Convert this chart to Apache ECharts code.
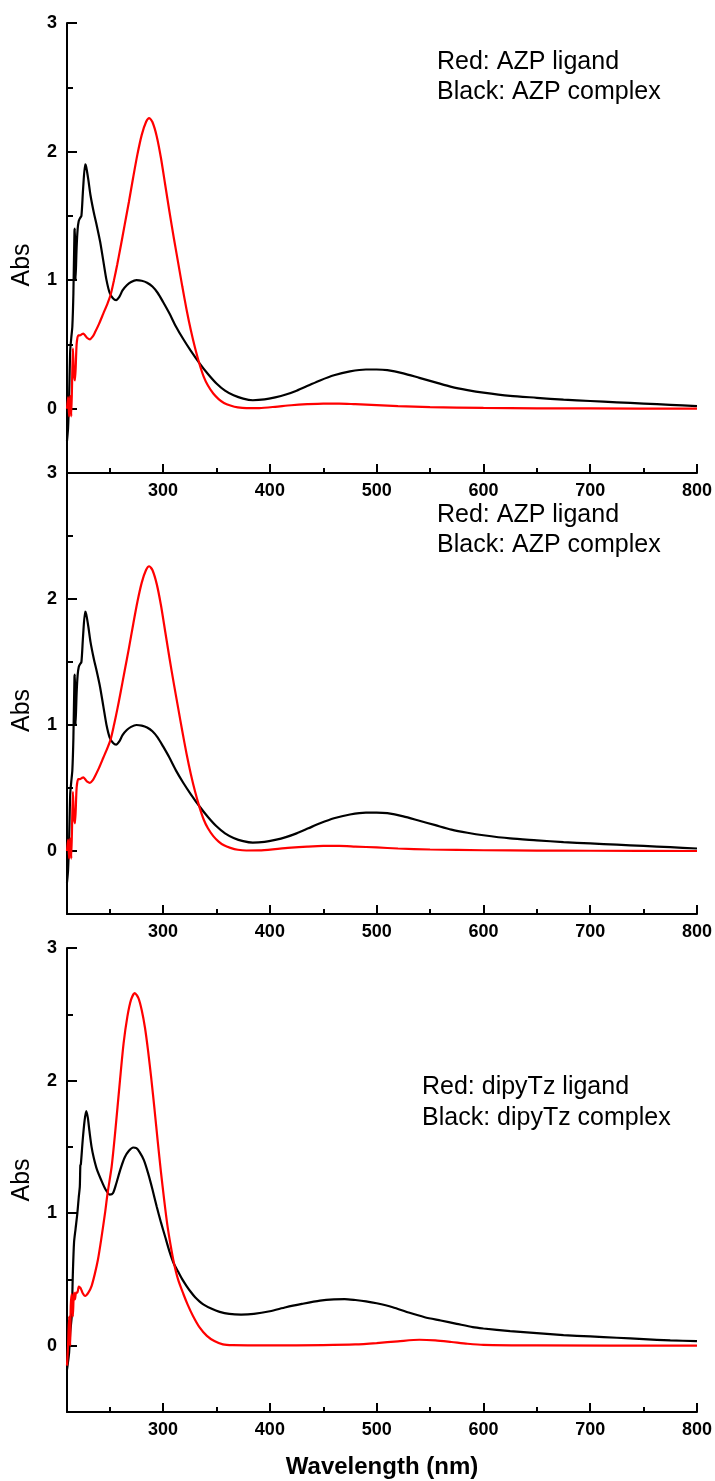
<!DOCTYPE html>
<html>
<head>
<meta charset="utf-8">
<script src="https://cdn.jsdelivr.net/npm/echarts@6/dist/echarts.min.js"></script>
<style>
html,body{margin:0;padding:0;background:#fff;}
#chart{width:715px;height:1481px;}
</style>
</head>
<body>
<div id="chart"></div>
<script>
// ---------- DATA ----------
// AZP complex (black, panels 1 and 2)
const azpComplexWl  = [210,211,212,213,214,215,216,217,217.5,218,219,220,221,222,223.5,225,227,228,230,232,235,238,241,244,247,250,253,256,259,262,266,270,275,280,285,290,295,300,306,312,319,326,334,342,350,358,366,375,384,395,405,415,425,436,447,460,475,490,500,510,525,540,555,570,585,600,625,650,675,700,725,750,775,800];
const azpComplexAbs = [-0.25,-0.15,0.1,0.45,0.55,0.64,0.9,1.38,1.40,1.0,1.25,1.40,1.46,1.48,1.50,1.70,1.90,1.88,1.78,1.66,1.53,1.42,1.30,1.15,1.00,0.90,0.86,0.845,0.87,0.92,0.96,0.985,1.0,0.995,0.98,0.95,0.90,0.83,0.74,0.64,0.54,0.45,0.355,0.27,0.196,0.14,0.104,0.078,0.066,0.072,0.088,0.11,0.14,0.18,0.22,0.26,0.29,0.305,0.305,0.30,0.275,0.24,0.205,0.17,0.145,0.125,0.10,0.085,0.07,0.06,0.05,0.04,0.03,0.02];
// AZP ligand (red, panels 1 and 2)
const azpLigandWl  = [210,211,212,213,214,215.5,216.5,217.5,219,220.5,222,224,225.3,227,229,231.5,234,236,240,244,248,251,254,257,260,264,268,272,276,280,284,287,290,294,298,302,306,310,314,318,322,326,330,334,338,342,347,352,357,363,370,378,390,405,420,435,450,465,480,500,520,550,600,650,700,800];
const azpLigandAbs = [0.0,0.09,-0.06,0.1,-0.06,0.47,0.27,0.22,0.50,0.57,0.57,0.58,0.585,0.57,0.55,0.54,0.56,0.59,0.66,0.74,0.82,0.89,1.0,1.12,1.25,1.43,1.61,1.80,1.98,2.13,2.23,2.26,2.23,2.12,1.95,1.74,1.53,1.33,1.14,0.95,0.77,0.61,0.47,0.35,0.25,0.18,0.118,0.075,0.045,0.025,0.01,0.004,0.005,0.015,0.027,0.035,0.04,0.04,0.035,0.028,0.02,0.012,0.006,0.003,0.002,0.0];
// dipyTz complex (black, panel 3)
const dipyComplexWl  = [210,211,212,213,214.4,215.5,216.6,218,219.7,221,222,222.5,223,224.7,226.5,228,229.5,231,233,235,238,242,246,250,253,256,260,264,268,272,275,278,282,286,290,294,298,302,306,310,314,318,322,326,330,334,338,345,353,362,373,385,400,415,430,447,460,470,480,490,500,515,530,545,560,575,590,600,625,650,675,700,725,750,775,800];
const dipyComplexAbs = [-0.18,-0.12,-0.05,0.1,0.22,0.55,0.78,0.88,1.0,1.12,1.2,1.36,1.37,1.55,1.70,1.77,1.72,1.62,1.50,1.42,1.33,1.25,1.18,1.14,1.15,1.22,1.33,1.42,1.47,1.495,1.49,1.46,1.40,1.30,1.18,1.05,0.93,0.82,0.71,0.62,0.56,0.50,0.45,0.405,0.365,0.335,0.31,0.28,0.255,0.24,0.235,0.24,0.26,0.29,0.315,0.34,0.35,0.352,0.345,0.335,0.32,0.29,0.25,0.215,0.19,0.165,0.14,0.13,0.11,0.095,0.08,0.07,0.06,0.05,0.04,0.035];
// dipyTz ligand (red, panel 3)
const dipyLigandWl  = [210,211,212,213,213.5,214.5,215.5,216.5,217.5,218.5,219.7,221,222,223,224.5,227,230,233,236,239,242,245.6,248,251.8,255,259.6,263,266.5,270,273.5,277,280,283,286,289,292,295,298,301,304,307,310,314,319,323,328,334,341,348,356,365,400,450,480,500,520,540,555,570,585,600,650,800];
const dipyLigandAbs = [-0.15,0.0,0.22,0.0,0.30,0.39,0.22,0.40,0.35,0.40,0.40,0.445,0.44,0.43,0.40,0.375,0.40,0.45,0.54,0.65,0.80,1.0,1.15,1.35,1.60,2.0,2.28,2.48,2.61,2.66,2.62,2.53,2.40,2.22,2.01,1.78,1.54,1.31,1.10,0.91,0.76,0.63,0.50,0.39,0.31,0.224,0.14,0.074,0.035,0.01,0.004,0.002,0.005,0.01,0.02,0.033,0.045,0.04,0.028,0.015,0.006,0.002,0.0];

// Tick labels
const xMajorTicks = [300,400,500,600,700,800];
const xMinorTicks = [250,350,450,550,650,750];
const yMajorTicks = [0,1,2,3];
const yMinorTicks = [0.5,1.5,2.5];

// Annotation texts
const panelNotes = [
  ['Red: AZP ligand','Black: AZP complex'],
  ['Red: AZP ligand','Black: AZP complex'],
  ['Red: dipyTz ligand','Black: dipyTz complex']
];
const yAxisTitle = 'Abs';
const xAxisTitle = 'Wavelength (nm)';

// ---------- CHART ----------
const pair = (wl, ab) => wl.map((w, i) => [w, ab[i]]);
const FONT = '"Liberation Sans", Arial, sans-serif';

const grids = [
  {left: 67, top: 23, width: 630, height: 450},
  {left: 67, top: 473, width: 630, height: 441},
  {left: 67, top: 948, width: 630, height: 464}
];
const namePad = [[0,34,0,0],[0,34,0,0],[0,0,0,0]];
const notePos = [
  {x: 437, y: [62, 92]},
  {x: 437, y: [515, 545]},
  {x: 422, y: [1087, 1118]}
];
const seriesSets = [
  [pair(azpLigandWl, azpLigandAbs), pair(azpComplexWl, azpComplexAbs)],
  [pair(azpLigandWl, azpLigandAbs), pair(azpComplexWl, azpComplexAbs)],
  [pair(dipyLigandWl, dipyLigandAbs), pair(dipyComplexWl, dipyComplexAbs)]
];
const seriesNames = [
  ['AZP ligand','AZP complex'],
  ['AZP ligand','AZP complex'],
  ['dipyTz ligand','dipyTz complex']
];

const xAxes = [], yAxes = [], series = [], graphics = [];
grids.forEach((g, i) => {
  xAxes.push({
    type: 'value', gridIndex: i, min: 210, max: 800, position: 'bottom',
    axisLine: {show: true, onZero: false, lineStyle: {color: '#000', width: 2}},
    axisTick: {show: true, inside: true, length: 9, customValues: xMajorTicks, lineStyle: {color: '#000', width: 2}},
    axisLabel: {show: true, customValues: xMajorTicks, margin: 9, color: '#000', fontFamily: FONT, fontWeight: 'bold', fontSize: 18},
    splitLine: {show: false},
    name: i === 2 ? xAxisTitle : '', nameLocation: 'middle', nameGap: 43,
    nameTextStyle: {color: '#000', fontFamily: FONT, fontWeight: 'bold', fontSize: 24}
  });
  xAxes.push({
    type: 'value', gridIndex: i, min: 210, max: 800, position: 'bottom',
    axisLine: {show: false, onZero: false},
    axisTick: {show: true, inside: true, length: 5, customValues: xMinorTicks, lineStyle: {color: '#000', width: 2}},
    axisLabel: {show: false}, splitLine: {show: false}
  });
  yAxes.push({
    type: 'value', gridIndex: i, min: -0.5, max: 3, position: 'left',
    axisLine: {show: true, onZero: false, lineStyle: {color: '#000', width: 2}},
    axisTick: {show: true, inside: true, length: 10, customValues: yMajorTicks, lineStyle: {color: '#000', width: 2}},
    axisLabel: {show: true, customValues: yMajorTicks, margin: 10, color: '#000', fontFamily: FONT, fontWeight: 'bold', fontSize: 18},
    splitLine: {show: false},
    name: yAxisTitle, nameLocation: 'middle', nameGap: 32, nameRotate: 90,
    nameTextStyle: {color: '#000', fontFamily: FONT, fontSize: 25, padding: namePad[i]}
  });
  yAxes.push({
    type: 'value', gridIndex: i, min: -0.5, max: 3, position: 'left',
    axisLine: {show: false, onZero: false},
    axisTick: {show: true, inside: true, length: 6, customValues: yMinorTicks, lineStyle: {color: '#000', width: 2}},
    axisLabel: {show: false}, splitLine: {show: false}
  });
  const colors = ['#ff0000', '#000000'];
  seriesSets[i].forEach((d, k) => {
    series.push({
      type: 'line', name: seriesNames[i][k], xAxisIndex: i * 2, yAxisIndex: i * 2,
      data: d, showSymbol: false, smooth: 0.25, z: k === 0 ? 3 : 2,
      lineStyle: {color: colors[k], width: 2.2}, itemStyle: {color: colors[k]}
    });
  });
  panelNotes[i].forEach((t, k) => {
    graphics.push({
      type: 'text', x: notePos[i].x, y: notePos[i].y[k],
      style: {text: t, fill: '#000', font: '25px "Liberation Sans", Arial, sans-serif', align: 'left', verticalAlign: 'middle'}
    });
  });
});

const chart = echarts.init(document.getElementById('chart'), null, {renderer: 'canvas'});
chart.setOption({
  animation: false,
  backgroundColor: '#fff',
  grid: grids,
  xAxis: xAxes,
  yAxis: yAxes,
  series: series,
  graphic: graphics
});
</script>
</body>
</html>
